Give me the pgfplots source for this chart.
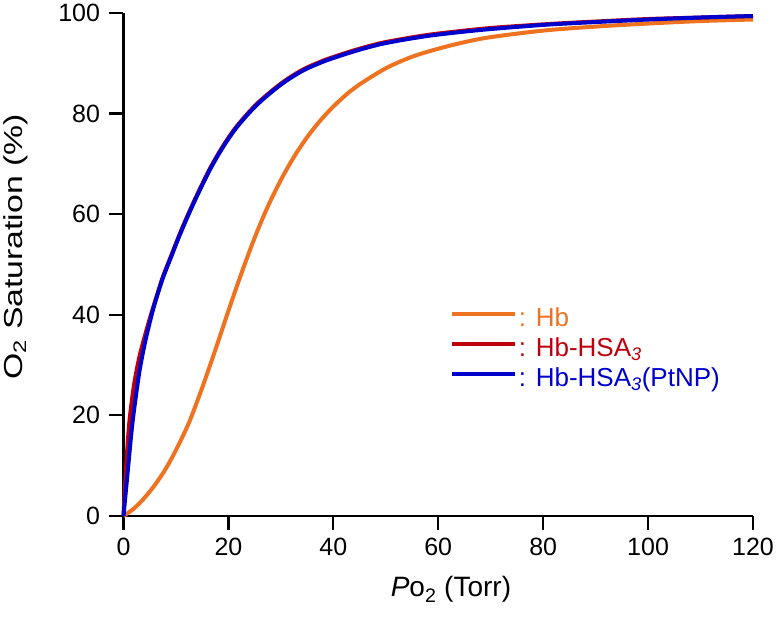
\documentclass[border=0pt]{standalone}
\usepackage{fontspec}
\setmainfont{Liberation Sans}
\usepackage{pgfplots}
\pgfplotsset{compat=1.18}
\definecolor{hborange}{RGB}{238,114,32}
\definecolor{hbred}{RGB}{190,0,12}
\definecolor{hbblue}{RGB}{0,0,204}
\newcommand\bigfont{\fontsize{25}{30}\selectfont}
\newcommand\legfont{\fontsize{26}{30}\selectfont}

\begin{document}
\begin{tikzpicture}
\path[use as bounding box] (-123.5pt,-101pt) rectangle (653.5pt,516pt);
\begin{axis}[
    scale only axis, width=629.5pt, height=503pt,
    xmin=0, xmax=120, ymin=0, ymax=100,
    axis lines=left,
    axis line style={-, line width=2.2pt, black},
    xtick={0,20,...,120}, ytick={0,20,...,100},
    tick align=outside, major tick length=14pt,
    tick style={line width=2.2pt, black},
    tick label style={font=\bigfont},
    xticklabel style={yshift=-5pt},
    yticklabel style={xshift=-6pt},
    /pgf/number format/assume math mode=true,
    xlabel={\textit{P}o\textsubscript{2} (Torr)},
    ylabel={\scalebox{1.3}[1]{O\textsubscript{2} Saturation (\%)}},
    xlabel style={font=\fontsize{28}{32}\selectfont,
        at={(axis description cs:0.419,-0.161)}, anchor=base west},
    ylabel style={font=\fontsize{26}{30}\selectfont,
        at={(axis description cs:-0.1612,0.2644)}, anchor=base west},
    clip=false,
    legend cell align=left,
    legend style={at={(axis cs:62.2,33)}, anchor=west, draw=none, fill=none,
        inner sep=0pt, row sep=2pt, column sep=2pt,
        nodes={inner sep=0pt, font=\legfont, text height=20pt, text depth=8pt}},
    legend image code/.code={\draw[#1] (0pt,6pt) -- (63pt,6pt);},
    every axis plot/.append style={line width=4pt, line join=round},
]
\addplot[hborange, smooth] coordinates {
(0,0) (2,1.5) (4,3.6) (6,6.2) (8,9.3) (10,13.1) (12.5,18.6) (15,25.5)
(17.5,33) (20,40.8) (22.5,48.3) (25,55.3) (27.5,61.5) (30,66.8) (32.5,71.4)
(35,75.3) (37.5,78.6) (40,81.4) (42.5,83.8) (45,85.8) (50,89) (55,91.3)
(60,92.9) (65,94.2) (70,95.2) (80,96.5) (90,97.3) (100,97.9) (110,98.4) (120,98.7)
};
\addlegendentry{\textcolor{hborange}{: Hb}}
\addplot[hbred, smooth] coordinates {
(0,0) (0.3,6) (0.7,13) (1.2,19.5) (2,26) (3,31.5) (4,35.5) (5,39.2) (6,42.6)
(7.5,47.5) (9,51.5) (10.5,55.5) (12,59.2) (14,63.8) (16.5,69.1) (19,73.6)
(21.6,77.5) (25,81.5) (28,84.3) (31,86.7) (34.3,88.8) (38,90.5) (41.3,91.7)
(45,92.9) (49,94) (53,94.8) (58.4,95.7) (65,96.5) (71,97.1) (81,97.8)
(90,98.3) (100,98.8) (110,99.1) (120,99.4)
};
\addlegendentry{\textcolor{hbred}{: Hb-HSA\textsubscript{\textit{3}}}}
\addplot[hbblue, smooth] coordinates {
(0,0) (0.5,5.5) (1,11) (1.5,16.5) (2,21) (3,28.5) (4,34) (5,38.5) (6,42.4)
(7.5,47.3) (9,51.3) (10.5,55.3) (12,59) (14,63.6) (16.5,68.9) (19,73.4)
(21.6,77.3) (25,81.3) (28,84.1) (31,86.5) (34.3,88.6) (38,90.3) (41.3,91.5)
(45,92.7) (49,93.8) (53,94.6) (58.4,95.5) (65,96.3) (71,96.9) (81,97.7)
(90,98.2) (100,98.7) (110,99.1) (120,99.4)
};
\addlegendentry{\textcolor{hbblue}{: Hb-HSA\textsubscript{\textit{3}}(PtNP)}}
\end{axis}
\end{tikzpicture}
\end{document}
